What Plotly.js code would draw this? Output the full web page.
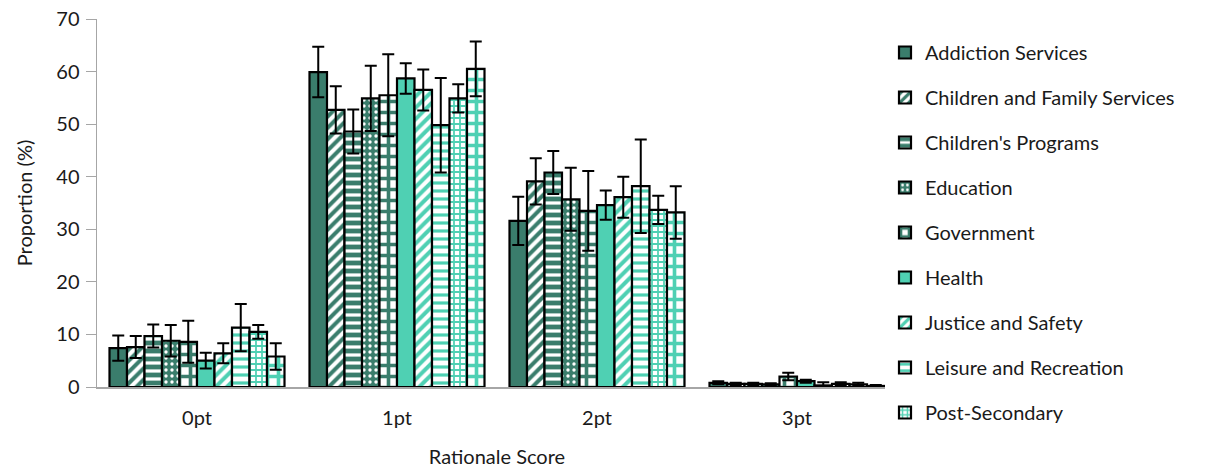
<!DOCTYPE html>
<html><head><meta charset="utf-8">
<script src="https://cdn.plot.ly/plotly-3.0.1.min.js"></script>
<style>body{margin:0;background:#fff}#chart{width:1211px;height:469px}</style>
</head><body><div id="chart"></div>
<script>
const categories = ["0pt", "1pt", "2pt", "3pt"];
const seriesNames = ["Addiction Services", "Children and Family Services", "Children's Programs", "Education", "Government", "Health", "Justice and Safety", "Leisure and Recreation", "Post-Secondary", "Social Services"];
const addiction = [7.4, 59.9, 31.6, 0.8];
const childrenFamily = [7.6, 52.7, 39.1, 0.6];
const childrensPrograms = [9.7, 48.6, 40.8, 0.6];
const education = [8.8, 54.9, 35.7, 0.5];
const government = [8.6, 55.5, 33.5, 2.0];
const health = [5.0, 58.7, 34.6, 1.1];
const justice = [6.4, 56.5, 36.1, 0.3];
const leisure = [11.3, 49.8, 38.2, 0.6];
const postSecondary = [10.5, 54.9, 33.7, 0.5];
const socialServices = [5.8, 60.5, 33.2, 0.2];
const errAddiction = [2.4, 4.8, 4.6, 0.3];
const errChildrenFamily = [2.1, 4.5, 4.4, 0.2];
const errChildrensPrograms = [2.2, 4.2, 4.1, 0.2];
const errEducation = [3.0, 6.2, 6.0, 0.2];
const errGovernment = [4.0, 7.8, 7.6, 0.7];
const errHealth = [1.5, 2.9, 2.8, 0.3];
const errJustice = [1.9, 3.9, 3.9, 0.6];
const errLeisure = [4.5, 9.0, 8.9, 0.3];
const errPostSecondary = [1.3, 2.7, 2.7, 0.3];
const errSocialServices = [2.5, 5.2, 5.0, 0.2];

const values = [addiction, childrenFamily, childrensPrograms, education, government, health, justice, leisure, postSecondary, socialServices];
const errors = [errAddiction, errChildrenFamily, errChildrensPrograms, errEducation, errGovernment, errHealth, errJustice, errLeisure, errPostSecondary, errSocialServices];

const DARK = "#3a7d6c", LIGHT = "#4fd0b3", WHITE = "#ffffff";
function pat(shape, fg, bg, size, solidity) {
  return {shape: shape, fgcolor: fg, bgcolor: bg, size: size, solidity: solidity, fillmode: "replace"};
}
const styles = [
  {color: DARK, pattern: {shape: ""}},
  {color: DARK, pattern: pat("/", DARK, WHITE, 8, 0.5)},
  {color: DARK, pattern: pat("-", DARK, WHITE, 8, 0.6)},
  {color: DARK, pattern: pat(".", WHITE, DARK, 6, 0.25)},
  {color: DARK, pattern: pat("+", DARK, WHITE, 11, 0.55)},
  {color: LIGHT, pattern: {shape: ""}},
  {color: LIGHT, pattern: pat("/", LIGHT, WHITE, 8, 0.5)},
  {color: LIGHT, pattern: pat("-", LIGHT, WHITE, 8, 0.4)},
  {color: LIGHT, pattern: pat("+", LIGHT, WHITE, 6, 0.5)},
  {color: LIGHT, pattern: pat("+", LIGHT, WHITE, 11, 0.55)}
];

const traces = seriesNames.map((name, i) => ({
  type: "bar",
  name: name,
  x: categories,
  y: values[i],
  legendgroup: "g" + i,
  showlegend: i < 9,
  marker: {color: styles[i].color, pattern: styles[i].pattern, line: {color: "#000000", width: 2.2}},
  error_y: {type: "data", array: errors[i], visible: true, color: "#000000", thickness: 2, width: 6}
}));

const font = "Lato, 'Open Sans', sans-serif";
const TXT = "#1a1a1a";
const layout = {
  width: 1211, height: 469,
  margin: {l: 97, r: 314, t: 19, b: 82},
  paper_bgcolor: "#ffffff", plot_bgcolor: "#ffffff",
  barmode: "group", bargap: 0.125, bargroupgap: 0,
  font: {family: font, size: 20, color: TXT},
  xaxis: {
    title: {text: "Rationale Score", font: {size: 20, color: TXT}, standoff: 22},
    showline: true, linecolor: "#a6a6a6", linewidth: 2, ticks: "", showgrid: false,
    tickfont: {size: 20, color: TXT}, ticklabelstandoff: 12
  },
  yaxis: {
    title: {text: "Proportion (%)", font: {size: 20, color: TXT}, standoff: 18},
    range: [0, 70], dtick: 10, showline: true, linecolor: "#a6a6a6", linewidth: 1.5,
    ticks: "outside", ticklen: 10, tickcolor: "#a6a6a6", showgrid: false, zeroline: false,
    tickfont: {size: 20, color: TXT}, ticklabelstandoff: 2
  },
  legend: {
    x: 0.985, xanchor: "left", xref: "paper", y: 0.962, yanchor: "top",
    traceorder: "grouped", tracegroupgap: 16, maxheight: 460,
    font: {size: 20, color: TXT}, itemwidth: 30
  },
  showlegend: true
};

Plotly.newPlot("chart", traces, layout, {displayModeBar: false, staticPlot: true});
</script></body></html>
